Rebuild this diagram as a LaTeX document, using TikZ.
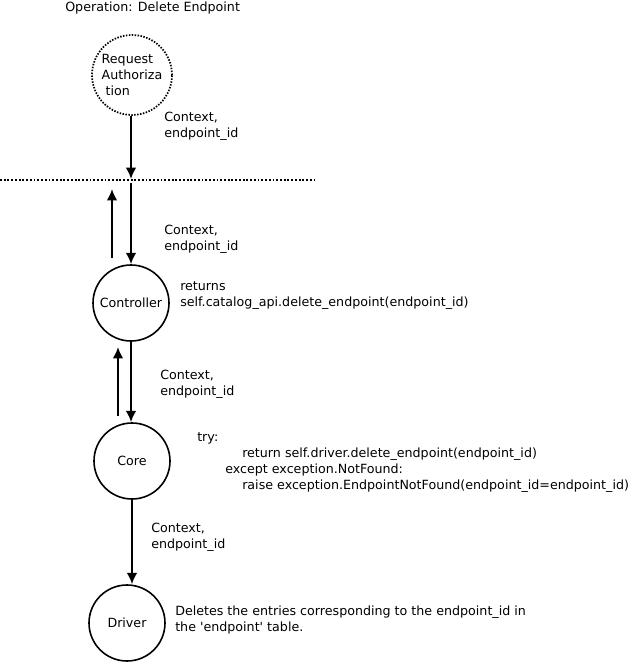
\documentclass[tikz,border=0pt]{standalone}
\usepackage{fontspec}
\setmainfont{DejaVu Sans}
\usepackage{tikz}
\usetikzlibrary{arrows.meta}
\tikzset{>={Latex[length=8.5pt,width=8pt]}}
\tikzset{
  lbl/.style={anchor=base west,inner sep=0pt,align=left,font=\fontsize{9.5}{12}\selectfont},
  stage/.style={circle,draw,line width=1.2pt,minimum size=57pt,inner sep=0pt,font=\fontsize{9.5}{12}\selectfont},
  flow/.style={->,line width=1.6pt}
}

\begin{document}
\begin{tikzpicture}[line cap=butt,line join=round,x=0.75pt,y=-0.75pt]
			\useasboundingbox (0,0) rectangle (634,667);
			\node[lbl] (title) at (65,12) {Operation: Delete Endpoint};
			% stages
			\node[stage,minimum size=60pt,line width=1.3pt,dash pattern=on 1.1pt off 1.1pt,align=left] (req) at (132,75) {Request\\Authoriza\\\ tion};
			\node[stage] (ctrl) at (131,303) {Controller};
			\node[stage] (core) at (132,461) {Core};
			\node[stage] (drv) at (127,623) {Driver};
			% boundary
			\coordinate (sepL) at (0,180);
			\coordinate (sepR) at (316,180);
			\draw[line width=1.3pt,dash pattern=on 1.4pt off 1.4pt] (sepL) -- (sepR);
			\coordinate (in1) at (131,179);
			\coordinate (out1) at (131,183);
			\coordinate (back1s) at (112,258);
			\coordinate (back1e) at (112,189);
			\coordinate (back2s) at (118,416);
			\coordinate (back2e) at (118,347);
			% calls
			\draw[flow] (req.south -| in1) -- (in1);
			\draw[flow] (out1) -- (ctrl.north);
			\draw[flow] (back1s) -- (back1e);
			\draw[flow] (ctrl.south) -- (ctrl.south |- core.north);
			\draw[flow] (back2s) -- (back2e);
			\draw[flow] (core.south) -- (core.south |- drv.north);
			% labels (base = last line)
			\node[lbl] (ctx1) at (164,137) {Context,\\endpoint\_id};
			\node[lbl] (ctx2) at (164,250) {Context,\\endpoint\_id};
			\node[lbl] (ctrlret) at (180,306) {returns\\self.catalog\_api.delete\_endpoint(endpoint\_id)};
			\node[lbl] (ctx3) at (160,395) {Context,\\endpoint\_id};
			\node[lbl] (corecode) at (197,489) {try:\\
				\hspace*{33.75pt}return self.driver.delete\_endpoint(endpoint\_id)\\
				\hspace*{21pt}except exception.NotFound:\\
				\hspace*{33.75pt}raise exception.EndpointNotFound(endpoint\_id=endpoint\_id)};
			\node[lbl] (ctx4) at (151,548) {Context,\\endpoint\_id};
			\node[lbl] (drvnote) at (175,631) {Deletes the entries corresponding to the endpoint\_id in\\the \textquotesingle endpoint\textquotesingle\ table.};
\end{tikzpicture}
\end{document}
